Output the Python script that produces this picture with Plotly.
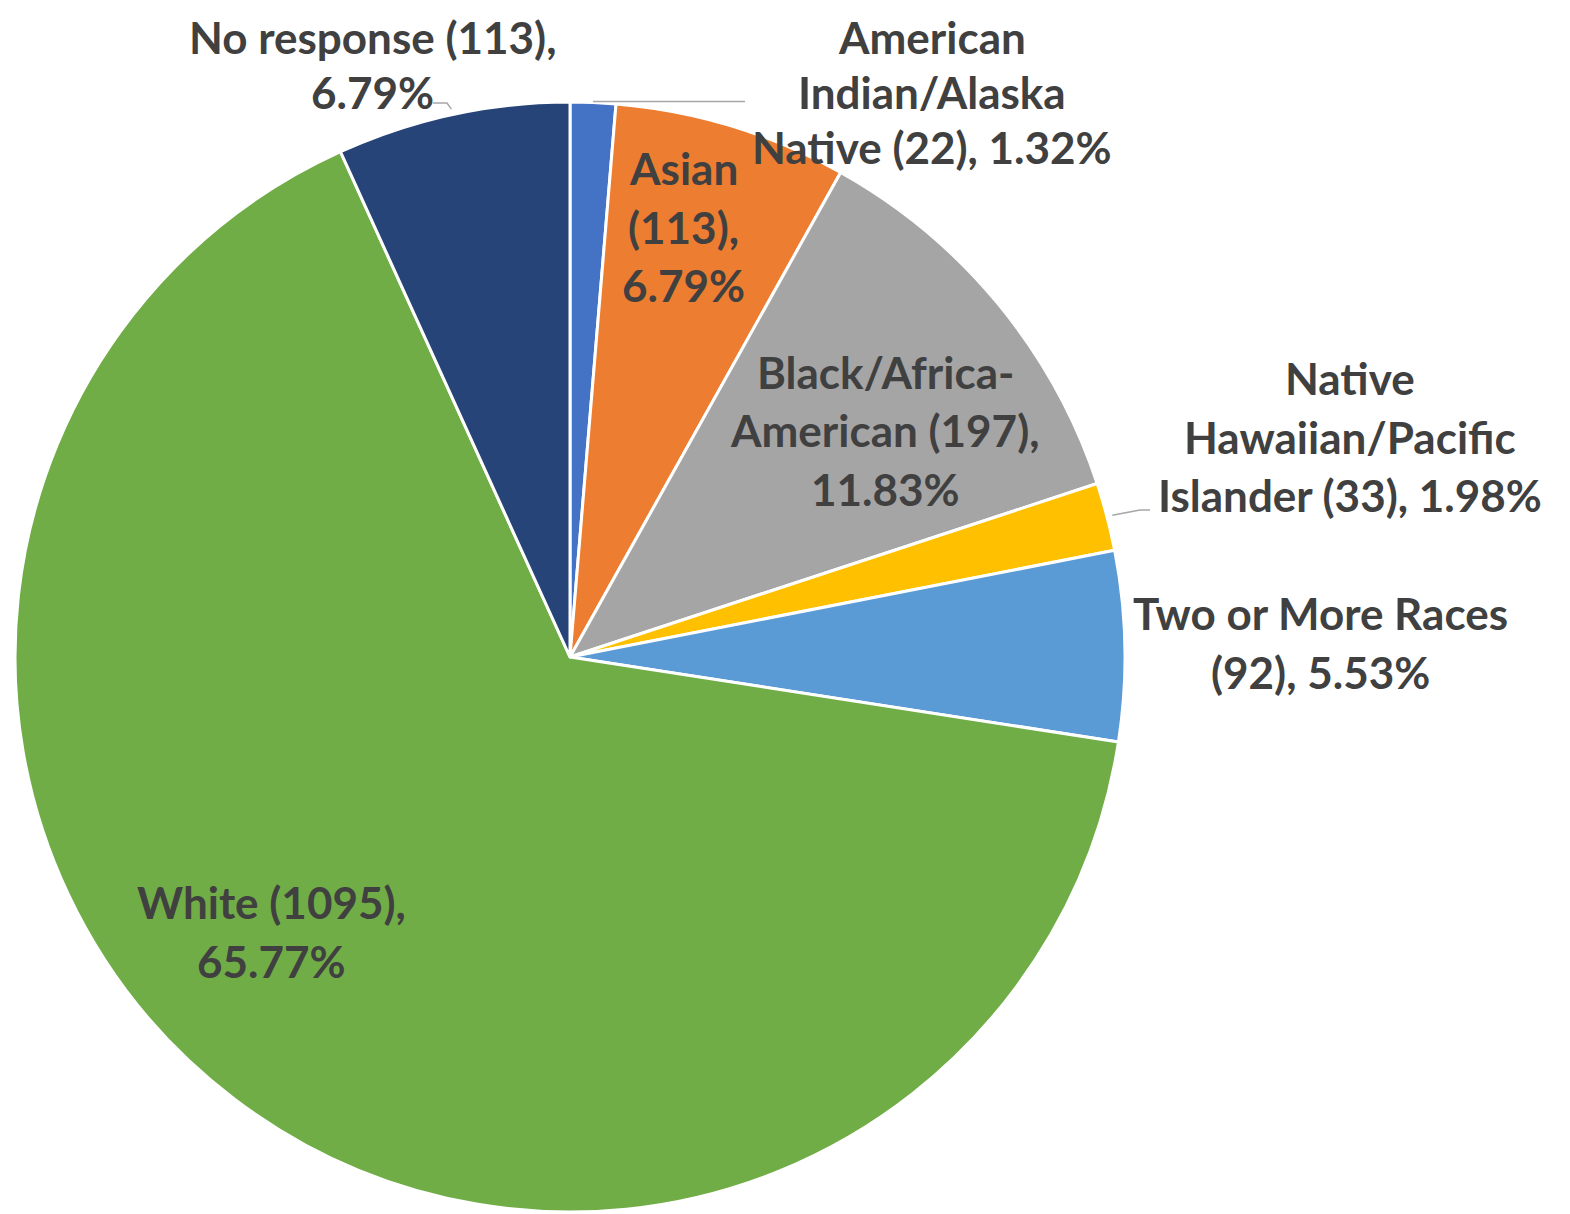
import math
import plotly.graph_objects as go

categories = ["American Indian/Alaska Native", "Asian", "Black/Africa-American",
              "Native Hawaiian/Pacific Islander", "Two or More Races", "White", "No response"]
counts = [22, 113, 197, 33, 92, 1095, 113]
percents = ["1.32%", "6.79%", "11.83%", "1.98%", "5.53%", "65.77%", "6.79%"]
colors = ["#4472C4", "#ED7D31", "#A5A5A5", "#FFC000", "#5B9BD5", "#70AD47", "#264478"]

# label line-breaking as in the reference
label_lines = [
    ["American", "Indian/Alaska", "Native (22), 1.32%"],
    ["Asian", "(113),", "6.79%"],
    ["Black/Africa-", "American (197),", "11.83%"],
    ["Native", "Hawaiian/Pacific", "Islander (33), 1.98%"],
    ["Two or More Races", "(92), 5.53%"],
    ["White (1095),", "65.77%"],
    ["No response (113),", "6.79%"],
]
# label centers (page px) of first line, and line spacing per label
label_pos = [(932, 37), (683, 168), (885, 372), (1350, 378), (1320, 613), (271, 902), (372, 37)]
label_step = [55, 58.5, 58.5, 58.5, 58.5, 58.5, 55]

OFF = 8  # page body margin
W, H = 1570 - OFF, 1214 - OFF
CX, CY, R = 570, 657, 555
FONT = "Lato"
TXT = "#404040"

def px(x):
    return (x - OFF) / W

def py(y):
    return 1 - (y - OFF) / H

fig = go.Figure(go.Pie(
    labels=categories, values=counts, sort=False, direction="clockwise", rotation=0,
    marker=dict(colors=colors, line=dict(color="white", width=3)),
    textinfo="none", hole=0,
    domain=dict(x=[px(CX - R), px(CX + R)], y=[max(0, py(CY + R)), py(CY - R)]),
    showlegend=False,
))

annotations = []
for lines, (x0, y0), step in zip(label_lines, label_pos, label_step):
    for k, t in enumerate(lines):
        annotations.append(dict(
            x=px(x0), y=py(y0 + k * step), xref="paper", yref="paper",
            text=t, showarrow=False, xanchor="center", yanchor="middle",
            font=dict(family=FONT, size=44, color=TXT, weight="bold"),
        ))

total = sum(counts)

def edge_point(i, rf=1.0):
    before = sum(counts[:i])
    ang = (before + counts[i] / 2) / total * 2 * math.pi
    return CX + R * rf * math.sin(ang), CY - R * rf * math.cos(ang)

shapes = []
def leader(points):
    path = "M " + " L ".join(f"{px(x)},{py(y)}" for x, y in points)
    shapes.append(dict(type="path", path=path, xref="paper", yref="paper",
                       line=dict(color="#A6A6A6", width=1.5)))

# American Indian/Alaska Native
ex, ey = edge_point(0, 1.0)
leader([(ex, ey - 1), (745, ey - 1)])
# Native Hawaiian/Pacific Islander
ex, ey = edge_point(3, 1.01)
leader([(ex, ey), (1140, 510), (1150, 510)])
# No response
ex, ey = edge_point(6, 1.01)
leader([(ex, ey), (447, 103), (433, 103)])

fig.update_layout(
    width=W, height=H, margin=dict(l=0, r=0, t=0, b=0),
    paper_bgcolor="white", plot_bgcolor="white",
    annotations=annotations, shapes=shapes,
)
fig.write_html("out.html")
